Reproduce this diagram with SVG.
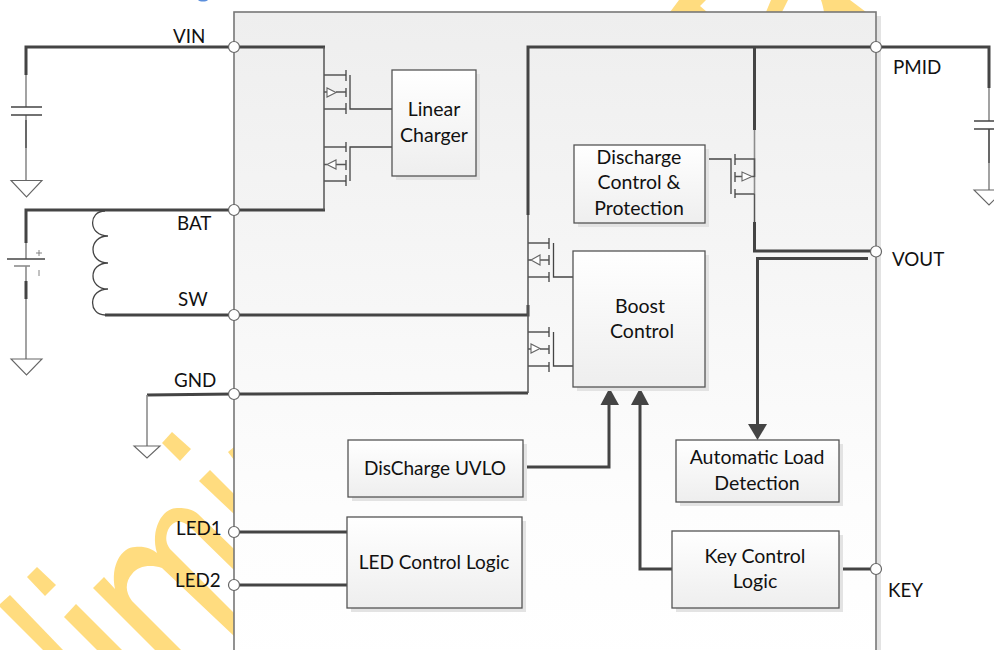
<svg xmlns="http://www.w3.org/2000/svg" width="994" height="650" viewBox="0 0 994 650">
<style>
text{font-family:"Lato","Liberation Sans",sans-serif;font-size:19.500px;fill:#111;text-anchor:middle}
.lbl{text-anchor:start;font-size:18.800px}
.one{font-size:19px}
.box{fill:url(#boxg);stroke:#555;stroke-width:1.3}
.sh{fill:#e3e3e3}
.th{fill:none;stroke:#444;stroke-width:3}
.md{fill:none;stroke:#555;stroke-width:1.5}
.gy{fill:none;stroke:#8c8c8c;stroke-width:1.6}
.tn{fill:none;stroke:#444;stroke-width:1.3}
.hair{fill:none;stroke:#777;stroke-width:0.9}
.tri{fill:#fff;stroke:#666;stroke-width:1.1}
.pin{fill:#fff;stroke:#666;stroke-width:1.2}
.wm{fill:#ffdc7f}
.ah{fill:#444}
</style>
<defs>
<linearGradient id="boxg" x1="0" y1="0" x2="0" y2="1"><stop offset="0" stop-color="#fff"/><stop offset="1" stop-color="#eee"/></linearGradient>
<linearGradient id="maing" x1="0" y1="0" x2="0" y2="1"><stop offset="0" stop-color="#eee"/><stop offset="0.75" stop-color="#fdfdfd"/><stop offset="1" stop-color="#fff"/></linearGradient>
</defs>
<rect width="994" height="650" fill="#fff"/>
<g id="watermark">
<path class="wm" d="M172,432L191,449L180,461L162,443Z"/>
<path class="wm" d="M228,452L234,447V460Z"/>
<path class="wm" d="M210,470L234,494V514L199,481Z"/>
<path class="wm" d="M10,595L63,650H43L0,607V604Z"/>
<path class="wm" d="M37,567L56,585L45,596L27,577Z"/>
<path class="wm" d="M76,604L122,650H97L64,617Z"/>
<path class="wm" d="M104,577L115,589C110,565 122,547 135,547C145,546 152,549 157,553C150,530 162,508 177,508C187,508 192,509 198,514L234,549V570L190,527C180,518 172,522 168,530C165,538 166,543 170,549L234,613V636L162,568C150,564 138,566 132,574C125,582 125,592 132,601L181,650H155L93,588Z"/>
<path class="wm" d="M670,12L679,0H706L700,6L707,12Z"/>
<path class="wm" d="M766,12L771,0H788L782,12Z"/>
<path class="wm" d="M824,12C823,6 822,3 821,0H850L866,12Z"/>
<path fill="#5b8fdc" d="M198,0H208C206,2 200,2 198,0Z"/>
</g>
<g id="chip">
<rect x="876" y="16" width="5" height="634" class="sh"/>
<rect x="234" y="12" width="642" height="660" fill="url(#maing)" stroke="#777" stroke-width="1.6"/>
</g>
<g id="connectors">
<path class="gy" d="M26,75V107M26,115V181"/>
<path class="md" d="M26,120V148"/>
<path class="th" d="M26,75V47H325"/>
<path class="tn" d="M11,107H42M11,115H42"/>
<path class="gy" d="M26,243V259M26,266V359"/>
<path class="th" d="M26,243V210H325"/>
<path class="th" d="M26,281V299"/>
<path class="tn" d="M7,259H45"/>
<path class="gy" d="M14,266H30"/>
<path class="hair" d="M39,250V256M36,253H42M39,270V276"/>
<path class="tn" d="M105,211C88,211 88,236 108,236C88,236 88,263 108,263C88,263 88,289 108,289C88,289 88,315 105,315"/>
<path class="th" d="M105,315H528V305"/>
<path class="th" d="M147,395L234,394L528,393"/>
<path class="gy" d="M147,395V446"/>
<path class="md" d="M324,47V75H346M324,75V148M324,147H346M324,109H346M324,147V210M324,181H346"/>
<path class="tn" d="M346,70V81M346,88V97M346,103V114M350,75V109H392M346,142V152M346,160V170M346,175V186M350,181V147H392"/>
<path class="md" d="M336,92H346M324,92H327M336,164.500H346M324,164.500H327"/>
<path class="tri" d="M327,88V97L336,92.500Z"/>
<path class="tri" d="M336,160V169L327,164.500Z"/>
<path class="th" d="M528,215V47H989V88"/>
<path class="gy" d="M989,88V121M989,129V190"/>
<path class="md" d="M989,129V163"/>
<path class="tn" d="M974,121H994M974,129H994"/>
<path class="md" d="M528,215V243H549M528,243V393M528,277H549M528,332H549M528,366H549"/>
<path class="tn" d="M549,238V249M549,255V265M549,272V282M553.500,243V277H573M549,327V337M549,345V354M549,362V372M553.500,332V366H573"/>
<path class="md" d="M540,260H549M528,260H531M540,349H549M528,349H531"/>
<path class="tri" d="M540,255V265L531,260Z"/>
<path class="tri" d="M531,344V353L540,348.500Z"/>
<path class="th" d="M754.500,47V130"/>
<path class="gy" d="M754.500,130V194"/>
<path class="md" d="M754.500,177V159H735M754.500,194H735M754.500,194V225"/>
<path class="tn" d="M705,159H731V194M735,154V165M735,172V182M735,189V198"/>
<path class="md" d="M735,176.500H742M752,176.500H754.500"/>
<path class="tri" d="M742,172V181L752,176.500Z"/>
<path class="th" d="M754.500,222V251H873"/>
<path class="th" d="M868,258.500H757.500V426"/>
<path class="ah" d="M757.500,440L748,424H767Z"/>
<path class="th" d="M523,467H609V404"/>
<path class="ah" d="M609.500,388L600.500,405H619Z"/>
<path class="th" d="M672,569H640V404"/>
<path class="ah" d="M640,388L631,405H649Z"/>
<path class="th" d="M839,569H876"/>
<path class="th" d="M234,532H347M234,585H347"/>
</g>
<g id="ground-1"><path class="tri" d="M11,180.500H42L26.500,197Z"/></g>
<g id="ground-2"><path class="tri" d="M11,359H42L26.500,375Z"/></g>
<g id="ground-3"><path class="tri" d="M134,446H160L147,458Z"/></g>
<g id="ground-4"><path class="tri" d="M974,190H1004L989,205Z"/></g>
<g id="linear-charger"><rect x="396" y="74" width="84" height="106" class="sh"/><rect x="392" y="70" width="84" height="106" class="box"/><text x="434" y="116">Linear</text><text x="434" y="142">Charger</text></g>
<g id="discharge-control"><rect x="578" y="149" width="131" height="78" class="sh"/><rect x="574" y="145" width="131" height="78" class="box"/><text x="639" y="164">Discharge</text><text x="639" y="189">Control &amp;</text><text x="639" y="215">Protection</text></g>
<g id="boost-control"><rect x="577" y="255" width="132" height="136" class="sh"/><rect x="573" y="251" width="132" height="136" class="box"/><text x="640" y="313">Boost</text><text x="642" y="338">Control</text></g>
<g id="uvlo"><rect x="352" y="444" width="175" height="57" class="sh"/><rect x="348" y="440" width="175" height="57" class="box"/><text class="one" x="435" y="475">DisCharge UVLO</text></g>
<g id="led-control"><rect x="351" y="521" width="175" height="91" class="sh"/><rect x="347" y="517" width="175" height="91" class="box"/><text class="one" x="434" y="569">LED Control Logic</text></g>
<g id="auto-load"><rect x="680" y="444" width="163" height="62" class="sh"/><rect x="676" y="440" width="163" height="62" class="box"/><text x="757" y="464">Automatic Load</text><text x="757" y="490">Detection</text></g>
<g id="key-control"><rect x="676" y="535" width="167" height="77" class="sh"/><rect x="672" y="531" width="167" height="77" class="box"/><text x="755" y="563">Key Control</text><text x="755" y="588">Logic</text></g>
<g id="pin-vin"><circle cx="234" cy="47" r="5.500" class="pin"/><text class="lbl" x="173" y="43">VIN</text></g>
<g id="pin-bat"><circle cx="234" cy="210" r="5.500" class="pin"/><text class="lbl" x="177" y="230">BAT</text></g>
<g id="pin-sw"><circle cx="234" cy="315" r="5.500" class="pin"/><text class="lbl" x="178" y="306">SW</text></g>
<g id="pin-gnd"><circle cx="234" cy="394" r="5.500" class="pin"/><text class="lbl" x="174" y="387">GND</text></g>
<g id="pin-led1"><circle cx="234" cy="532" r="5.500" class="pin"/><text class="lbl" x="176" y="535">LED1</text></g>
<g id="pin-led2"><circle cx="234" cy="585" r="5.500" class="pin"/><text class="lbl" x="175" y="587">LED2</text></g>
<g id="pin-pmid"><circle cx="876" cy="47" r="5.500" class="pin"/><text class="lbl" x="893" y="74">PMID</text></g>
<g id="pin-vout"><circle cx="876" cy="251.500" r="5.500" class="pin"/><text class="lbl" x="892" y="266">VOUT</text></g>
<g id="pin-key"><circle cx="876" cy="569" r="5.500" class="pin"/><text class="lbl" x="888" y="597">KEY</text></g>
</svg>
